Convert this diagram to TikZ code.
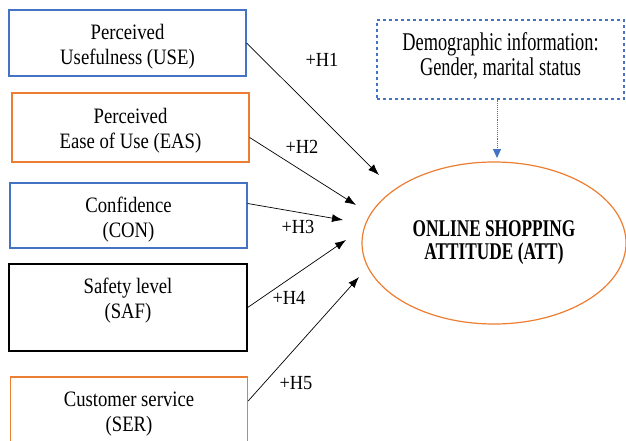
\documentclass[tikz,border=0pt]{standalone}
\usepackage{fontspec}
\setmainfont{Liberation Serif}[FakeStretch=0.72]
\newfontfamily\factorfont{Liberation Serif}[FakeStretch=0.85]
\newfontfamily\hlabfont{Liberation Serif}[FakeStretch=0.92]
\usetikzlibrary{arrows.meta,shapes.geometric}
\definecolor{boxblue}{RGB}{68,114,196}
\definecolor{boxorange}{RGB}{237,125,49}

\begin{document}
\begin{tikzpicture}[x=1pt,y=-1pt,
    factor/.style={draw,line width=1.3pt,minimum width=237pt,align=center,
      inner sep=0pt,text height=54pt,text depth=11pt,
      font=\factorfont\fontsize{22}{25}\selectfont},
    hyp/.style={-{Latex[length=11pt,width=8pt]},line width=0.7pt},
    hlab/.style={font=\hlabfont\fontsize{20}{20}\selectfont,inner sep=0pt}]
  \useasboundingbox (0,0) rectangle (626,441);
  % factors
  \node[factor,draw=boxblue,minimum height=66pt] (use) at (127.5,43)
    {Perceived\\Usefulness (USE)};
  \node[factor,draw=boxorange,minimum height=69pt] (eas) at (130.5,127.5)
    {Perceived\\Ease of Use (EAS)};
  \node[factor,draw=boxblue,minimum height=65pt] (con) at (128.5,215.5)
    {Confidence\\(CON)};
  \node[factor,draw=black,minimum width=238pt,minimum height=87pt,
    text height=53pt,text depth=31pt] (saf) at (128,307.5) {Safety level\\(SAF)};
  \node[factor,draw=boxorange,minimum height=66pt] (ser) at (129,410)
    {Customer service\\(SER)};
  % outcome and control
  \node[ellipse,draw=boxorange,line width=1.2pt,minimum width=264pt,minimum height=162pt,
    align=center,inner sep=0pt,font=\bfseries\fontsize{24}{23}\selectfont] (att) at (494,243)
    {ONLINE SHOPPING\\ATTITUDE (ATT)};
  \node[draw=boxblue,dashed,line width=1.1pt,minimum width=247pt,minimum height=79pt,
    align=center,inner sep=0pt,font=\fontsize{25.5}{25}\selectfont] (demo) at (500.5,59.5)
    {Demographic information:\\Gender, marital status\\[-15pt]\mbox{}};
  \coordinate (demotip) at (497,158);
  \draw[boxblue,densely dotted,line width=0.9pt,-{Triangle[length=9pt,width=8pt]}]
    (demo.south -| demotip) -- (demotip);
  % hypotheses
  \coordinate (t1) at (379,175);
  \coordinate (t2) at (356,205);
  \coordinate (t3) at (343,220);
  \coordinate (t4) at (346,240);
  \coordinate (t5) at (359,277);
  \foreach \s/\n/\dy in {use/1/0,eas/2/-10,con/3/12,saf/4/0,ser/5/9}
    \draw[hyp] ([yshift=\dy]\s.east) -- (t\n);
  \foreach \n/\lx/\ly in {1/322/60,2/302/147,3/298/227,4/289/298,5/296/383}
    \node[hlab] (h\n) at (\lx,\ly) {+H\n};
\end{tikzpicture}
\end{document}
